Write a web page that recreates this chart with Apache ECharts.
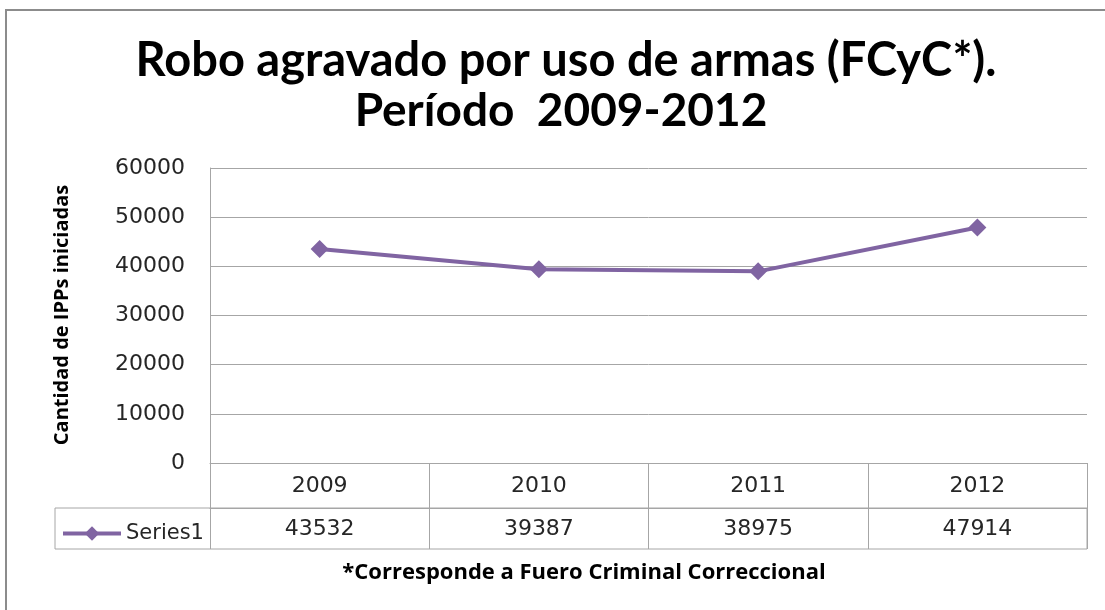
<!DOCTYPE html>
<html>
<head>
<meta charset="utf-8">
<title>Robo agravado por uso de armas</title>
<script src="https://cdn.jsdelivr.net/npm/echarts@6/dist/echarts.min.js"></script>
<style>
  html, body { margin: 0; padding: 0; background: #fff; }
  #chart { width: 1105px; height: 610px; }
</style>
</head>
<body>
<div id="chart"></div>
<script>
// datos
const years = ['2009', '2010', '2011', '2012']
const series1 = [43532, 39387, 38975, 47914]
const yTicks = [0, 10000, 20000, 30000, 40000, 50000, 60000]

const lineColor = '#8064A2'
const gridColor = '#a6a6a6'
const labelFont = 'DejaVu Sans'
const labelColor = '#262626'

const chart = echarts.init(document.getElementById('chart'))

chart.setOption({
  backgroundColor: '#fff',
  animation: false,
  grid: {
    left: 210,
    right: 18,
    top: 168,
    bottom: 147
  },
  legend: {
    data: ['Series1'],
    left: 56,
    top: 518,
    itemWidth: 58,
    itemHeight: 18,
    itemGap: 4,
    lineStyle: { width: 4 },
    textStyle: { fontFamily: labelFont, fontSize: 21, color: labelColor }
  },
  xAxis: [{
    type: 'category',
    data: years,
    position: 'bottom',
    boundaryGap: true,
    axisLine: { show: true, lineStyle: { color: gridColor, width: 1 } },
    axisTick: { show: true, length: 86, interval: 0, lineStyle: { color: gridColor, width: 1 } },
    axisLabel: { margin: 12, fontFamily: labelFont, fontSize: 22, color: labelColor },
    splitLine: { show: false }
  }, {
    // fila de valores de la tabla de datos
    type: 'category',
    data: series1.map(String),
    position: 'bottom',
    offset: 45,
    boundaryGap: true,
    axisLine: { show: true, lineStyle: { color: gridColor, width: 1 } },
    axisTick: { show: false },
    axisLabel: { margin: 10, fontFamily: labelFont, fontSize: 22, color: labelColor },
    splitLine: { show: false }
  }],
  yAxis: {
    type: 'value',
    min: yTicks[0],
    max: yTicks[yTicks.length - 1],
    interval: yTicks[1] - yTicks[0],
    axisLine: { show: true, lineStyle: { color: gridColor, width: 1 } },
    axisTick: { show: false },
    axisLabel: {
      margin: 25,
      fontFamily: labelFont,
      fontSize: 22,
      color: labelColor,
      formatter: v => String(v)
    },
    splitLine: { show: true, lineStyle: { color: gridColor, width: 1 } }
  },
  series: [{
    name: 'Series1',
    type: 'line',
    data: series1,
    xAxisIndex: 0,
    color: lineColor,
    symbol: 'diamond',
    symbolSize: 18,
    lineStyle: { width: 4, color: lineColor },
    itemStyle: { color: lineColor }
  }],
  graphic: [
    // marco exterior
    {
      type: 'rect',
      shape: { x: 6, y: 10, width: 1200, height: 700 },
      style: { fill: 'none', stroke: '#8c8c8c', lineWidth: 2 },
      silent: true
    },
    // celda de la leyenda en la tabla
    {
      type: 'rect',
      shape: { x: 55, y: 508, width: 1032, height: 41 },
      style: { fill: 'none', stroke: gridColor, lineWidth: 1 },
      silent: true
    },
    {
      type: 'text',
      x: 566,
      y: 61,
      style: {
        text: 'Robo agravado por uso de armas (FCyC*).',
        fontFamily: 'Lato',
        fontWeight: 'bold',
        fontSize: 47,
        fill: '#000',
        textAlign: 'center',
        textVerticalAlign: 'middle'
      }
    },
    {
      type: 'text',
      x: 561,
      y: 111,
      style: {
        text: 'Período  2009-2012',
        fontFamily: 'Lato',
        fontWeight: 'bold',
        fontSize: 46,
        fill: '#000',
        textAlign: 'center',
        textVerticalAlign: 'middle'
      }
    },
    {
      type: 'text',
      x: 62,
      y: 315,
      rotation: Math.PI / 2,
      style: {
        text: 'Cantidad de IPPs iniciadas',
        fontFamily: 'Open Sans',
        fontWeight: 'bold',
        fontSize: 20,
        fill: '#000',
        textAlign: 'center',
        textVerticalAlign: 'middle'
      }
    },
    {
      type: 'text',
      x: 584,
      y: 573,
      style: {
        text: '*Corresponde a Fuero Criminal Correccional',
        fontFamily: 'Open Sans',
        fontWeight: 'bold',
        fontSize: 22,
        fill: '#000',
        textAlign: 'center',
        textVerticalAlign: 'middle'
      }
    }
  ]
})
</script>
</body>
</html>
